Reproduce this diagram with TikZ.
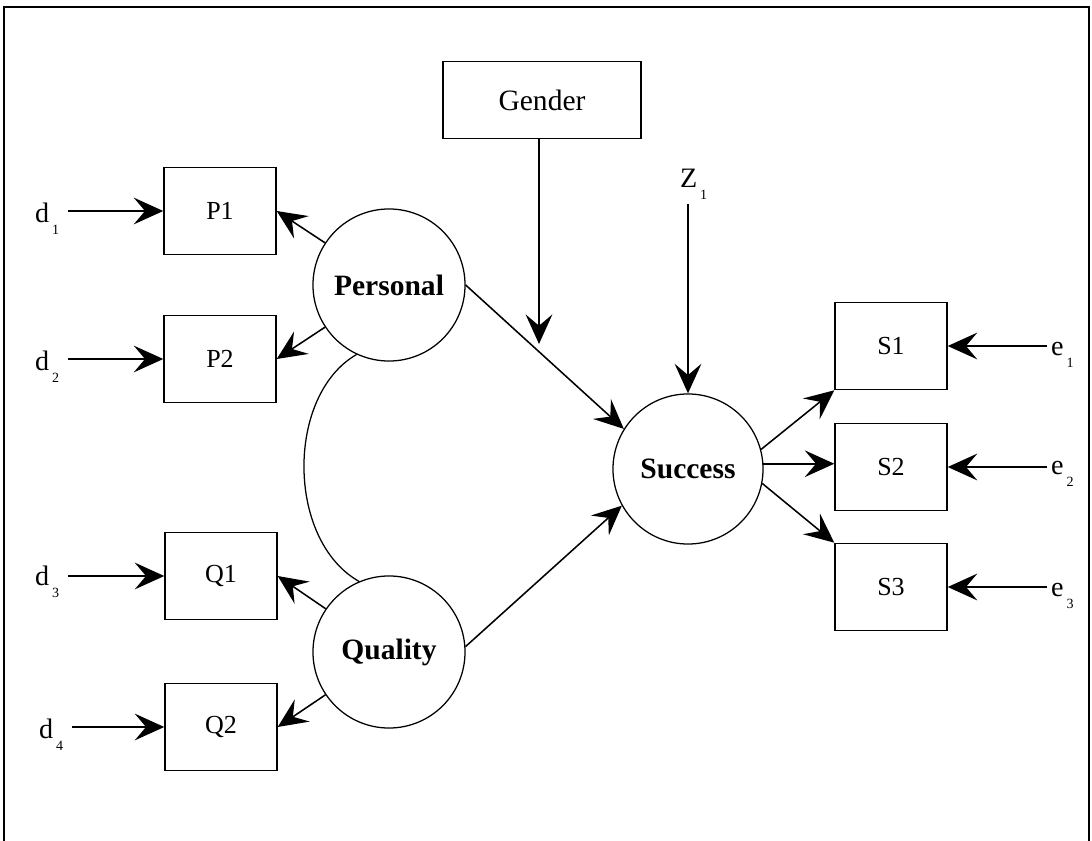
\documentclass[tikz,border=0pt]{standalone}
\usepackage{fontspec}
\setmainfont{Liberation Serif}
\usetikzlibrary{arrows.meta,positioning}

\newcommand{\sublbl}[2]{#1\hspace{2pt}\raisebox{-9pt}{\fontsize{10}{11}\selectfont #2}}

\begin{document}
\begin{tikzpicture}[x=0.025cm,y=-0.025cm,
  box/.style={draw,line width=1pt,minimum width=2.8cm,minimum height=2.18cm,inner sep=0pt,font=\fontsize{18.5}{22}\selectfont},
  latent/.style={draw,circle,line width=0.9pt,minimum size=3.8cm,inner sep=0pt,font=\bfseries\fontsize{21}{25}\selectfont},
  errlbl/.style={inner sep=0pt,outer sep=3pt,font=\fontsize{20}{24}\selectfont},
  arr/.style={line width=1.1pt,-{Stealth[length=21pt,width=19pt,inset=8pt]}}]

\useasboundingbox (0,0) rectangle (1092,841);
% frame
\draw[line width=1.5pt] (4,841) |- (1089,7) -- (1089,841);

% moderator
\node[box,minimum width=4.95cm,minimum height=1.93cm,font=\fontsize{21}{25}\selectfont] (gender) at (542,100) {Gender};
\coordinate (gtip) at (539,344);

% latent variables
\node[latent] (personal) at (389,285) {Personal};
\node[latent] (quality) at (389,652) {Quality};
\node[latent,minimum size=3.75cm] (success) at (688,469) {Success};

% indicators
\node[box] (p1) at (220,211) {P1};
\node[box] (p2) at (220,359) {P2};
\node[box] (q1) at (221,576) {Q1};
\node[box] (q2) at (221,727) {Q2};
\node[box] (s1) at (891,346) {S1};
\node[box] (s2) at (891,467) {S2};
\node[box] (s3) at (891,587) {S3};

% error terms
\node[errlbl,anchor=base west] (d1) at (31,222) {\sublbl{d}{1}};
\node[errlbl,anchor=base west] (d2) at (31,370) {\sublbl{d}{2}};
\node[errlbl,anchor=base west] (d3) at (31,585) {\sublbl{d}{3}};
\node[errlbl,anchor=base west] (d4) at (35,738) {\sublbl{d}{4}};
\node[errlbl,anchor=base west] (e1) at (1047,355) {\sublbl{e}{1}};
\node[errlbl,anchor=base west] (e2) at (1047,474) {\sublbl{e}{2}};
\node[errlbl,anchor=base west] (e3) at (1047,596) {\sublbl{e}{3}};
\node[errlbl,anchor=base west] (z1) at (676,187) {\sublbl{Z}{1}};

\draw[arr,shorten <=3pt] (d1.east |- p1) -- (p1);
\draw[arr,shorten <=3pt] (d2.east |- p2) -- (p2);
\draw[arr,shorten <=3pt] (d3.east |- q1) -- (q1);
\draw[arr,shorten <=3pt] (d4.east |- q2) -- (q2);
\draw[arr] (e1.west |- s1) -- (s1);
\draw[arr] (e2.west |- s2) -- (s2);
\draw[arr] (e3.west |- s3) -- (s3);

\draw[arr] (personal) -- (p1.east);
\draw[arr] (personal) -- (p2.east);
\draw[arr] (quality) -- (q1.east);
\draw[arr] (quality) -- (q2.east);
\draw[line width=0.9pt] (personal.245) .. controls (286,395) and (286,540) .. (quality.113);

\draw[arr] (personal.east) -- (success.148);
\draw[arr] (quality.4) -- (success.209);
\draw[arr] (gender.south -| gtip) -- (gtip);
\draw[arr] (z1.south -| success.north) -- (success.north);

\draw[arr] (success.15) -- (s1.south west);
\draw[arr] (success.4) -- (success.4 -| s2.west);
\draw[arr] (success.-11) -- (s3.north west);

\end{tikzpicture}
\end{document}
